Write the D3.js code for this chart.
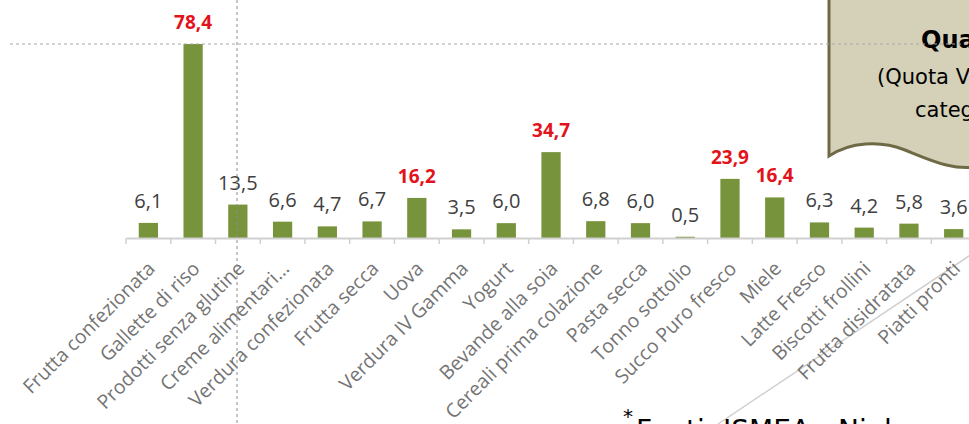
<!DOCTYPE html>
<html>
<head>
<meta charset="utf-8">
<script src="https://cdn.jsdelivr.net/npm/d3@7"></script>
<style>
  body { margin: 0; background: #fff; }
  svg { display: block; }
</style>
</head>
<body>
<div id="chart"></div>
<script>
// categorie e quote (%)
const categories = ["Frutta confezionata", "Gallette di riso", "Prodotti senza glutine", "Creme alimentari\u2026",
  "Verdura confezionata", "Frutta secca", "Uova", "Verdura IV Gamma", "Yogurt", "Bevande alla soia",
  "Cereali prima colazione", "Pasta secca", "Tonno sottolio", "Succo Puro fresco", "Miele", "Latte Fresco",
  "Biscotti frollini", "Frutta disidratata", "Piatti pronti"];
const values = [6.1, 78.4, 13.5, 6.6, 4.7, 6.7, 16.2, 3.5, 6.0, 34.7, 6.8, 6.0, 0.5, 23.9, 16.4, 6.3, 4.2, 5.8, 3.6];
const highlightOver = 15;
const calloutLines = ["Quanto pesa il claim", "(Quota Valore sul totale", "categoria)"];
const sourceNote = "Fonti: ISMEA - Nielsen";

const w = 969, h = 424;
const svg = d3.select('#chart').append('svg').attr('width', w).attr('height', h);

const fmt = v => d3.format('.1f')(v).replace('.', ',');

//X
const xScale = d3.scaleBand()
  .domain(categories)
  .range([126, 126 + 44.74 * categories.length])
  .paddingInner(0.57).paddingOuter(0.285);
//Y
const yScale = d3.scaleLinear().domain([0, 78.4]).range([238, 44]);

// decorative slide line
svg.append('line').attr('x1', 718).attr('y1', 424).attr('x2', 975).attr('y2', 252)
  .attr('stroke', '#d0d0d0').attr('stroke-width', 1.5);

// bars
svg.selectAll('rect.bar')
  .data(values)
  .enter()
  .append('rect')
  .attr('class', 'bar')
  .attr('x', (d, i) => xScale(categories[i]))
  .attr('width', xScale.bandwidth())
  .attr('y', d => yScale(d))
  .attr('height', d => yScale(0) - yScale(d))
  .attr('fill', '#77933c');

// axis
const xAxis = d3.axisBottom(xScale).tickSize(0).tickFormat('');
const gx = svg.append('g').attr('transform', `translate(0, ${yScale(0)})`).call(xAxis);
gx.select('.domain').attr('stroke', '#d0d0d0').attr('stroke-width', 2);
// tick marks between categories
const step = xScale.step();
gx.selectAll('line.sep')
  .data(d3.range(categories.length + 1))
  .enter()
  .append('line')
  .attr('x1', i => 126 + i * step).attr('x2', i => 126 + i * step)
  .attr('y1', 0).attr('y2', 6)
  .attr('stroke', '#d0d0d0').attr('stroke-width', 1.5);

// category labels
svg.selectAll('text.cat')
  .data(categories)
  .enter()
  .append('text')
  .attr('class', 'cat')
  .attr('transform', d => `translate(${xScale(d) + xScale.bandwidth() / 2 + 3}, 265) rotate(-45)`)
  .attr('text-anchor', 'end')
  .attr('dy', '0.35em')
  .attr('font-family', 'Open Sans')
  .attr('font-size', 19.5)
  .attr('fill', '#747474')
  .text(d => d);

// value labels
svg.selectAll('text.val')
  .data(values)
  .enter()
  .append('text')
  .attr('class', 'val')
  .attr('x', (d, i) => xScale(categories[i]) + xScale.bandwidth() / 2)
  .attr('y', d => yScale(d) - 15)
  .attr('text-anchor', 'middle')
  .attr('font-family', 'Open Sans')
  .attr('font-size', d => d > highlightOver ? 19 : 20)
  .attr('font-weight', d => d > highlightOver ? 'bold' : 'normal')
  .attr('fill', d => d > highlightOver ? '#e3121b' : '#404040')
  .text(d => fmt(d));

// callout (document shape)
const cg = svg.append('g');
cg.append('path')
  .attr('d', 'M829,-5 L980,-5 L980,166 C955,172 930,160 905,150 C880,140 850,142 829,156 Z')
  .attr('fill', '#d5d0b8').attr('stroke', '#6f6a46').attr('stroke-width', 3);
cg.append('text').attr('x', 921).attr('y', 48)
  .attr('font-family', 'DejaVu Sans').attr('font-weight', 'bold').attr('font-size', 24)
  .attr('fill', '#000').text(calloutLines[0]);
cg.append('text').attr('x', 877).attr('y', 84)
  .attr('font-family', 'DejaVu Sans').attr('font-size', 21)
  .attr('fill', '#000').text(calloutLines[1]);
cg.append('text').attr('x', 915).attr('y', 117)
  .attr('font-family', 'DejaVu Sans').attr('font-size', 21)
  .attr('fill', '#000').text(calloutLines[2]);

// dashed guides
svg.append('line').attr('x1', 10).attr('x2', w).attr('y1', 44).attr('y2', 44)
  .attr('stroke', '#a8a8a8').attr('stroke-dasharray', '3,3');
svg.append('line').attr('x1', 237).attr('x2', 237).attr('y1', 0).attr('y2', h)
  .attr('stroke', '#8c8c8c').attr('stroke-dasharray', '3,3');

// source note
svg.append('text').attr('x', 623).attr('y', 423)
  .attr('font-family', 'DejaVu Sans').attr('font-size', 20).attr('fill', '#000').text('*');
svg.append('text').attr('x', 636).attr('y', 440)
  .attr('font-family', 'DejaVu Sans').attr('font-size', 28).attr('fill', '#000').text(sourceNote);
</script>
</body>
</html>
